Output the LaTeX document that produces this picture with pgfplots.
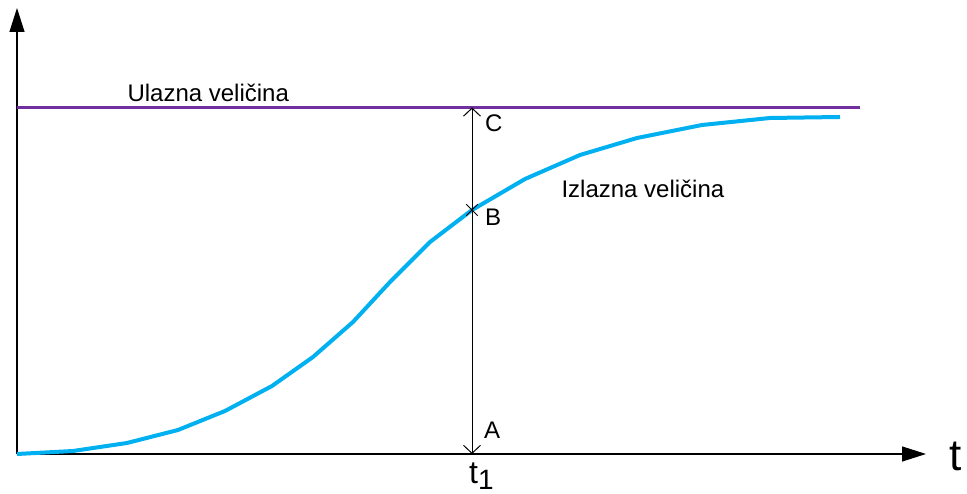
\documentclass[border=0pt]{standalone}
\usepackage{fontspec}
\setmainfont{Liberation Sans}
\usepackage{pgfplots}
\pgfplotsset{compat=1.18}
\usetikzlibrary{arrows.meta}
\definecolor{ulaz}{HTML}{7030A0}
\definecolor{izlaz}{HTML}{00B0F0}

\begin{document}
\begin{tikzpicture}
\begin{axis}[
    x=1pt, y=1pt,
    xmin=0, xmax=909,
    ymin=0, ymax=446,
    axis lines=left,
    axis line style={line width=1.2pt, -{Triangle[length=24pt,width=15pt]}},
    xtick=\empty, ytick=\empty,
    enlargelimits=false,
    clip=false,
    font=\fontsize{24}{28}\selectfont,
]

% ulazna velicina (step)
\addplot[ulaz, line width=3.3pt, no marks] coordinates {(0,346.5) (843,346.5)};

% izlazna velicina
\addplot[izlaz, line width=4pt, no marks, line join=round] coordinates {
    (0,0) (56,3) (110,11) (161,24) (208,43) (255,68) (296,97) (336,132)
    (373,172) (413,212) (455,244) (508,275) (563,299) (620,316) (685,329)
    (753,336) (823,337)
};

% A-C arrow at t1
\addplot[black, line width=1pt, no marks,
    {Straight Barb[length=8pt,width=17pt]}-{Straight Barb[length=8pt,width=17pt]}]
    coordinates {(455,0) (455,346.5)};

% point B
\addplot[black, only marks, mark=x, mark size=8pt, line width=1pt] coordinates {(455,244)};

\node[anchor=base west] at (axis cs:107,352) {Ulazna veličina};
\node[anchor=base west] at (axis cs:541,256) {Izlazna veličina};
\node[anchor=base west, inner sep=0pt] at (axis cs:468,322) {C};
\node[anchor=base west, inner sep=0pt] at (axis cs:468,228) {B};
\node[anchor=base west, inner sep=0pt] at (axis cs:467,15) {A};
\node[anchor=base west, inner sep=0pt, font=\fontsize{32}{36}\selectfont]
    at (axis cs:452,-30) {t{\fontsize{28}{30}\selectfont\raisebox{-6pt}{1}}};
\node[anchor=base west, inner sep=0pt, font=\fontsize{44}{48}\selectfont]
    at (axis cs:932,-17) {t};

\coordinate (bl) at (axis cs:-17,-40);
\coordinate (tr) at (axis cs:950,454);
\end{axis}
\pgfresetboundingbox
\useasboundingbox (bl) rectangle (tr);
\end{tikzpicture}
\end{document}
